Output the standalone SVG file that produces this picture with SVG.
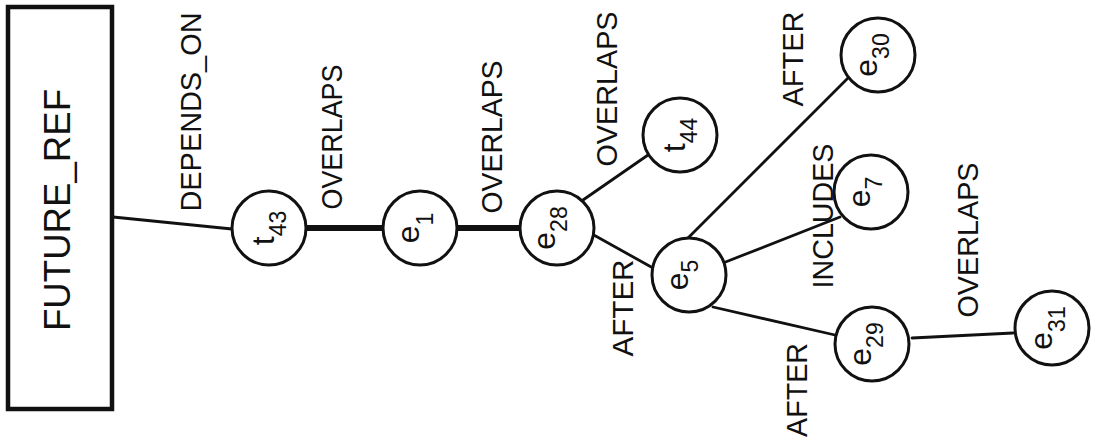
<svg xmlns="http://www.w3.org/2000/svg" width="1094" height="445" viewBox="0 0 1094 445">
  <style>
    .node circle { fill: #fff; stroke: #111; stroke-width: 3; }
    .box { fill: #fff; stroke: #111; stroke-width: 4.5; }
    .edge { stroke: #111; stroke-width: 2.8; fill: none; stroke-linecap: round; }
    .edge.strong { stroke-width: 6; stroke-linecap: butt; }
    text { font-family: "Liberation Sans", Arial, sans-serif; fill: #111; }
    .elabel { font-size: 30px; text-anchor: middle; }
    .nlabel { font-size: 32px; text-anchor: middle; }
    .sub { font-size: 23px; }
    .title { font-size: 37px; text-anchor: middle; }
  </style>

  <!-- connectors -->
  <g id="connectors">
    <line class="edge" x1="113" y1="217" x2="232" y2="229"/>
    <line class="edge strong" x1="305" y1="228" x2="383" y2="228"/>
    <line class="edge strong" x1="457" y1="228" x2="520" y2="228"/>
    <line class="edge" x1="583" y1="200" x2="648" y2="155"/>
    <line class="edge" x1="592" y1="234" x2="653" y2="268"/>
    <line class="edge" x1="688" y1="238" x2="848" y2="78"/>
    <line class="edge" x1="723" y1="263" x2="840" y2="217"/>
    <line class="edge" x1="713" y1="307" x2="835" y2="335"/>
    <line class="edge" x1="912" y1="338" x2="1013" y2="333"/>
  </g>

  <!-- connector labels, written bottom-to-top -->
  <g id="edge-labels">
    <text class="elabel" transform="translate(201,112) rotate(-90)" textLength="199" lengthAdjust="spacingAndGlyphs">DEPENDS_ON</text>
    <text class="elabel" transform="translate(342,137) rotate(-90)" textLength="145" lengthAdjust="spacingAndGlyphs">OVERLAPS</text>
    <text class="elabel" transform="translate(502,137) rotate(-90)" textLength="153" lengthAdjust="spacingAndGlyphs">OVERLAPS</text>
    <text class="elabel" transform="translate(617,89) rotate(-90)" textLength="155" lengthAdjust="spacingAndGlyphs">OVERLAPS</text>
    <text class="elabel" transform="translate(633,308) rotate(-90)" textLength="97" lengthAdjust="spacingAndGlyphs">AFTER</text>
    <text class="elabel" transform="translate(803,59) rotate(-90)" textLength="95" lengthAdjust="spacingAndGlyphs">AFTER</text>
    <text class="elabel" transform="translate(833,216) rotate(-90)" textLength="145" lengthAdjust="spacingAndGlyphs">INCLUDES</text>
    <text class="elabel" transform="translate(807,390) rotate(-90)" textLength="94" lengthAdjust="spacingAndGlyphs">AFTER</text>
    <text class="elabel" transform="translate(978,240) rotate(-90)" textLength="155" lengthAdjust="spacingAndGlyphs">OVERLAPS</text>
  </g>

  <!-- nodes -->
  <g id="future_ref">
    <rect class="box" x="8" y="7" width="104" height="402"/>
    <text class="title" transform="translate(70,210) rotate(-90)" textLength="242" lengthAdjust="spacingAndGlyphs">FUTURE_REF</text>
  </g>
  <g id="t43" class="node">
    <circle cx="269" cy="228" r="37"/>
    <text class="nlabel" transform="translate(269,228) rotate(-90)" y="5">t<tspan class="sub" dy="12">43</tspan></text>
  </g>
  <g id="e1" class="node">
    <circle cx="420" cy="228" r="37"/>
    <text class="nlabel" transform="translate(420,228) rotate(-90)" y="-1">e<tspan class="sub" dy="14">1</tspan></text>
  </g>
  <g id="e28" class="node">
    <circle cx="557" cy="228" r="37"/>
    <text class="nlabel" transform="translate(557,228) rotate(-90)" y="-2">e<tspan class="sub" dy="12">28</tspan></text>
  </g>
  <g id="t44" class="node">
    <circle cx="680" cy="135" r="37"/>
    <text class="nlabel" transform="translate(680,135) rotate(-90)" y="5">t<tspan class="sub" dy="12">44</tspan></text>
  </g>
  <g id="e5" class="node">
    <circle cx="689" cy="275" r="37"/>
    <text class="nlabel" transform="translate(689,275) rotate(-90)" y="-1">e<tspan class="sub" dy="10">5</tspan></text>
  </g>
  <g id="e30" class="node">
    <circle cx="878" cy="55" r="37"/>
    <text class="nlabel" transform="translate(878,55) rotate(-90)" y="-1">e<tspan class="sub" dy="12">30</tspan></text>
  </g>
  <g id="e7" class="node">
    <circle cx="871" cy="192" r="37"/>
    <text class="nlabel" transform="translate(871,192) rotate(-90)" y="-1">e<tspan class="sub" dy="12">7</tspan></text>
  </g>
  <g id="e29" class="node">
    <circle cx="872" cy="344" r="37"/>
    <text class="nlabel" transform="translate(872,344) rotate(-90)" y="-1">e<tspan class="sub" dy="12">29</tspan></text>
  </g>
  <g id="e31" class="node">
    <circle cx="1052" cy="328" r="37"/>
    <text class="nlabel" transform="translate(1052,328) rotate(-90)" y="0">e<tspan class="sub" dy="13">31</tspan></text>
  </g>
</svg>
